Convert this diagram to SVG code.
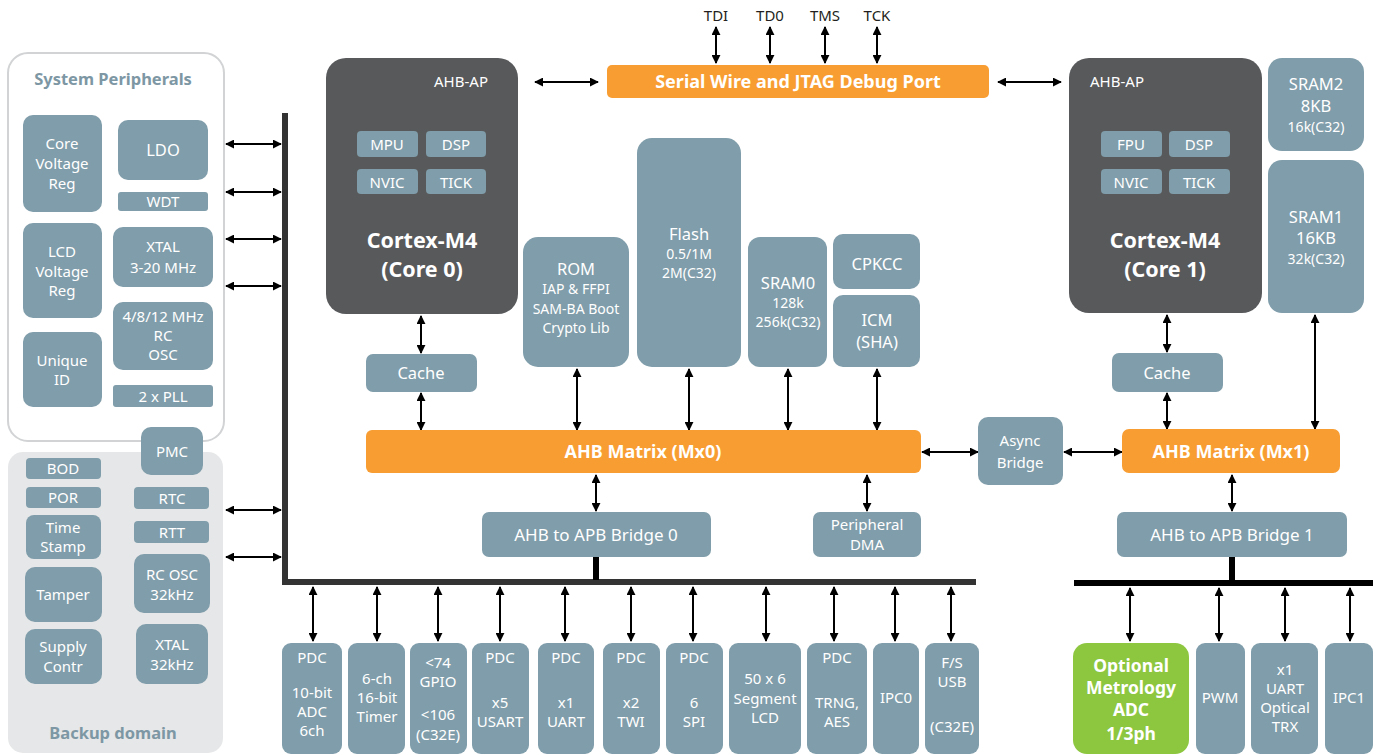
<svg xmlns="http://www.w3.org/2000/svg" width="1380" height="755" viewBox="0 0 1380 755">
<defs>
<marker id="ah" viewBox="0 0 10 10" refX="9" refY="5" markerWidth="9" markerHeight="9" markerUnits="userSpaceOnUse" orient="auto-start-reverse">
<path d="M0,0 L10,5 L0,10 z" fill="#000"/>
</marker>
<style>
.n{fill:#7F9DAA}
.d{fill:#58595B}
.o{fill:#F89D31}
.g{fill:#8DC63F}
text{font-family:"Noto Sans","Open Sans",sans-serif;text-anchor:middle;fill:#fff;font-size:15px}
.s{font-size:14px}
.m{font-size:16.5px}
.b{font-weight:bold}
.h{font-weight:bold;fill:#7D97A4;font-size:16.5px}
.k{fill:#231F20;font-size:15px}
.cx{font-weight:bold;font-size:21.5px}
.ob{font-weight:bold;font-size:18px}
.gb{font-weight:bold;font-size:17.5px}
.c line{stroke:#000;stroke-width:2;marker-start:url(#ah);marker-end:url(#ah)}
</style>
</defs>
<rect width="1380" height="755" fill="#fff"/>

<g id="sysperiph-panel">
<rect x="8" y="53" width="216" height="388" rx="20" fill="#fff" stroke="#D1D3D4" stroke-width="2"/>
<text class="h" x="113" y="85">System Peripherals</text>
</g>
<g id="backup-panel">
<rect x="8" y="452" width="215" height="301" rx="15" fill="#E6E7E8"/>
<text class="h" x="113" y="739">Backup domain</text>
</g>

<g id="buses">
<rect x="282" y="113" width="6" height="472" fill="#333"/>
<rect x="282" y="579" width="694" height="6" fill="#333"/>
<rect x="593" y="557" width="6" height="23" fill="#000"/>
<rect x="1074" y="580" width="299" height="6" fill="#000"/>
<rect x="1229" y="557" width="6" height="24" fill="#000"/>
</g>

<g id="connectors" class="c">
<line x1="226" y1="144" x2="281" y2="144"/>
<line x1="226" y1="192" x2="281" y2="192"/>
<line x1="226" y1="239" x2="281" y2="239"/>
<line x1="226" y1="286" x2="281" y2="286"/>
<line x1="226" y1="510" x2="281" y2="510"/>
<line x1="226" y1="557" x2="281" y2="557"/>
<line x1="716" y1="27" x2="716" y2="63"/>
<line x1="770" y1="27" x2="770" y2="63"/>
<line x1="825" y1="27" x2="825" y2="63"/>
<line x1="877" y1="27" x2="877" y2="63"/>
<line x1="535" y1="82" x2="598" y2="82"/>
<line x1="998" y1="82" x2="1061" y2="82"/>
<line x1="421" y1="316" x2="421" y2="353"/>
<line x1="421" y1="393" x2="421" y2="430"/>
<line x1="577" y1="369" x2="577" y2="430"/>
<line x1="689" y1="369" x2="689" y2="430"/>
<line x1="788" y1="369" x2="788" y2="430"/>
<line x1="877" y1="369" x2="877" y2="430"/>
<line x1="596" y1="475" x2="596" y2="511"/>
<line x1="867" y1="475" x2="867" y2="511"/>
<line x1="922" y1="452" x2="978" y2="452"/>
<line x1="1064" y1="452" x2="1122" y2="452"/>
<line x1="1167" y1="315" x2="1167" y2="352"/>
<line x1="1167" y1="393" x2="1167" y2="429"/>
<line x1="1315" y1="315" x2="1315" y2="429"/>
<line x1="1232" y1="475" x2="1232" y2="511"/>
<line x1="313" y1="587" x2="313" y2="641"/>
<line x1="377" y1="587" x2="377" y2="641"/>
<line x1="438" y1="587" x2="438" y2="641"/>
<line x1="500" y1="587" x2="500" y2="641"/>
<line x1="565" y1="587" x2="565" y2="641"/>
<line x1="631" y1="587" x2="631" y2="641"/>
<line x1="693" y1="587" x2="693" y2="641"/>
<line x1="766" y1="587" x2="766" y2="641"/>
<line x1="834" y1="587" x2="834" y2="641"/>
<line x1="895" y1="587" x2="895" y2="641"/>
<line x1="951" y1="587" x2="951" y2="641"/>
<line x1="1130" y1="588" x2="1130" y2="641"/>
<line x1="1219" y1="588" x2="1219" y2="641"/>
<line x1="1285" y1="588" x2="1285" y2="641"/>
<line x1="1350" y1="588" x2="1350" y2="641"/>
</g>

<g id="jtag-labels">
<text class="k" x="716" y="21">TDI</text>
<text class="k" x="770" y="21">TD0</text>
<text class="k" x="825" y="21">TMS</text>
<text class="k" x="877" y="21">TCK</text>
</g>

<g id="core-vreg"><rect class="n" x="23" y="115" width="79" height="97" rx="10"/><text x="62" y="149">Core</text><text x="62" y="169">Voltage</text><text x="62" y="189">Reg</text></g>
<g id="ldo"><rect class="n" x="118" y="120" width="90" height="60" rx="10"/><text x="163" y="156" class="m">LDO</text></g>
<g id="wdt"><rect class="n" x="118" y="192" width="90" height="19" rx="3"/><text x="163" y="207">WDT</text></g>
<g id="lcd-vreg"><rect class="n" x="23" y="223" width="79" height="95" rx="10"/><text x="62" y="257">LCD</text><text x="62" y="277">Voltage</text><text x="62" y="296">Reg</text></g>
<g id="xtal"><rect class="n" x="113" y="227" width="100" height="60" rx="10"/><text x="163" y="252">XTAL</text><text x="163" y="273">3-20 MHz</text></g>
<g id="rc-osc"><rect class="n" x="113" y="302" width="100" height="68" rx="10"/><text x="163" y="322">4/8/12 MHz</text><text x="163" y="341">RC</text><text x="163" y="360">OSC</text></g>
<g id="unique-id"><rect class="n" x="23" y="332" width="79" height="75" rx="10"/><text x="62" y="366">Unique</text><text x="62" y="385">ID</text></g>
<g id="pll"><rect class="n" x="113" y="385" width="100" height="22" rx="3"/><text x="163" y="402">2 x PLL</text></g>
<g id="pmc"><rect class="n" x="141" y="427" width="62" height="48" rx="10"/><text x="172" y="457">PMC</text></g>

<g id="bod"><rect class="n" x="26" y="458" width="75" height="21" rx="4"/><text x="63" y="474">BOD</text></g>
<g id="por"><rect class="n" x="26" y="487" width="75" height="21" rx="4"/><text x="63" y="503">POR</text></g>
<g id="timestamp"><rect class="n" x="26" y="515" width="75" height="44" rx="8"/><text x="63" y="533">Time</text><text x="63" y="552">Stamp</text></g>
<g id="tamper"><rect class="n" x="25" y="567" width="77" height="55" rx="10"/><text x="63" y="600">Tamper</text></g>
<g id="supply"><rect class="n" x="25" y="629" width="77" height="55" rx="10"/><text x="63" y="652">Supply</text><text x="63" y="672">Contr</text></g>
<g id="rtc"><rect class="n" x="134" y="487" width="75" height="22" rx="4"/><text x="172" y="504">RTC</text></g>
<g id="rtt"><rect class="n" x="134" y="521" width="75" height="22" rx="4"/><text x="172" y="538">RTT</text></g>
<g id="rc32"><rect class="n" x="134" y="554" width="76" height="59" rx="10"/><text x="172" y="580">RC OSC</text><text x="172" y="600">32kHz</text></g>
<g id="xtal32"><rect class="n" x="136" y="624" width="72" height="60" rx="10"/><text x="172" y="650">XTAL</text><text x="172" y="670">32kHz</text></g>

<g id="core0">
<rect class="d" x="326" y="58" width="192" height="256" rx="20"/>
<text x="461" y="87">AHB-AP</text>
<rect class="n" x="357" y="131" width="61" height="26" rx="4"/><text x="387" y="150">MPU</text>
<rect class="n" x="426" y="131" width="60" height="26" rx="4"/><text x="456" y="150">DSP</text>
<rect class="n" x="357" y="169" width="61" height="25" rx="4"/><text x="387" y="188">NVIC</text>
<rect class="n" x="426" y="169" width="60" height="25" rx="4"/><text x="456" y="188">TICK</text>
<text class="cx" x="422" y="248">Cortex-M4</text>
<text class="cx" x="422" y="277">(Core 0)</text>
</g>
<g id="cache0"><rect class="n" x="366" y="354" width="111" height="38" rx="7"/><text x="421" y="379" class="m">Cache</text></g>

<g id="debug-port"><rect class="o" x="607" y="65" width="382" height="33" rx="5"/><text class="ob" x="798" y="88">Serial Wire and JTAG Debug Port</text></g>

<g id="rom"><rect class="n" x="523" y="237" width="106" height="130" rx="15"/><text x="576" y="275" class="m">ROM</text><text class="s" x="576" y="294">IAP &amp; FFPI</text><text class="s" x="576" y="314">SAM-BA Boot</text><text class="s" x="576" y="333">Crypto Lib</text></g>
<g id="flash"><rect class="n" x="637" y="138" width="104" height="229" rx="15"/><text x="689" y="240" class="m">Flash</text><text class="s" x="689" y="259">0.5/1M</text><text class="s" x="689" y="278">2M(C32)</text></g>
<g id="sram0"><rect class="n" x="748" y="237" width="79" height="130" rx="12"/><text x="788" y="289" class="m">SRAM0</text><text class="s" x="788" y="308">128k</text><text class="s" x="788" y="327">256k(C32)</text></g>
<g id="cpkcc"><rect class="n" x="833" y="234" width="87" height="55" rx="10"/><text x="877" y="270" class="m">CPKCC</text></g>
<g id="icm"><rect class="n" x="833" y="295" width="87" height="72" rx="10"/><text x="877" y="326" class="m">ICM</text><text x="877" y="348" class="m">(SHA)</text></g>

<g id="mx0"><rect class="o" x="366" y="430" width="555" height="43" rx="6"/><text class="ob" x="643" y="458">AHB Matrix (Mx0)</text></g>
<g id="bridge0"><rect class="n" x="482" y="512" width="229" height="45" rx="7"/><text x="596" y="541" style="font-size:17px">AHB to APB Bridge 0</text></g>
<g id="pdma"><rect class="n" x="813" y="512" width="108" height="45" rx="7"/><text x="867" y="530">Peripheral</text><text x="867" y="550">DMA</text></g>
<g id="async"><rect class="n" x="978" y="417" width="85" height="68" rx="10"/><text x="1020" y="446">Async</text><text x="1020" y="468">Bridge</text></g>

<g id="core1">
<rect class="d" x="1069" y="58" width="193" height="255" rx="20"/>
<text x="1117" y="87">AHB-AP</text>
<rect class="n" x="1101" y="131" width="61" height="26" rx="4"/><text x="1131" y="150">FPU</text>
<rect class="n" x="1169" y="131" width="61" height="26" rx="4"/><text x="1199" y="150">DSP</text>
<rect class="n" x="1101" y="169" width="61" height="25" rx="4"/><text x="1131" y="188">NVIC</text>
<rect class="n" x="1169" y="169" width="61" height="25" rx="4"/><text x="1199" y="188">TICK</text>
<text class="cx" x="1165" y="248">Cortex-M4</text>
<text class="cx" x="1165" y="277">(Core 1)</text>
</g>
<g id="sram2"><rect class="n" x="1268" y="58" width="96" height="93" rx="14"/><text x="1316" y="90" class="m">SRAM2</text><text x="1316" y="112" class="m">8KB</text><text class="s" x="1316" y="132">16k(C32)</text></g>
<g id="sram1"><rect class="n" x="1268" y="160" width="96" height="153" rx="14"/><text x="1316" y="223" class="m">SRAM1</text><text x="1316" y="244" class="m">16KB</text><text class="s" x="1316" y="264">32k(C32)</text></g>
<g id="cache1"><rect class="n" x="1112" y="353" width="111" height="39" rx="7"/><text x="1167" y="379" class="m">Cache</text></g>
<g id="mx1"><rect class="o" x="1122" y="429" width="218" height="44" rx="7"/><text class="ob" x="1231" y="458">AHB Matrix (Mx1)</text></g>
<g id="bridge1"><rect class="n" x="1117" y="512" width="230" height="45" rx="7"/><text x="1232" y="541" style="font-size:17px">AHB to APB Bridge 1</text></g>

<g id="adc"><rect class="n" x="282" y="643" width="60" height="111" rx="9"/><text x="312" y="663">PDC</text><text x="312" y="698">10-bit</text><text x="312" y="717">ADC</text><text x="312" y="736">6ch</text></g>
<g id="timer"><rect class="n" x="348" y="643" width="57" height="111" rx="9"/><text x="377" y="684">6-ch</text><text x="377" y="703">16-bit</text><text x="377" y="722">Timer</text></g>
<g id="gpio"><rect class="n" x="410" y="643" width="57" height="111" rx="9"/><text x="438" y="668">&lt;74</text><text x="438" y="687">GPIO</text><text x="438" y="720">&lt;106</text><text x="438" y="740">(C32E)</text></g>
<g id="usart"><rect class="n" x="472" y="643" width="57" height="111" rx="9"/><text x="500" y="663">PDC</text><text x="500" y="708">x5</text><text x="500" y="727">USART</text></g>
<g id="uart"><rect class="n" x="538" y="643" width="56" height="111" rx="9"/><text x="566" y="663">PDC</text><text x="566" y="708">x1</text><text x="566" y="727">UART</text></g>
<g id="twi"><rect class="n" x="603" y="643" width="57" height="111" rx="9"/><text x="631" y="663">PDC</text><text x="631" y="708">x2</text><text x="631" y="727">TWI</text></g>
<g id="spi"><rect class="n" x="666" y="643" width="57" height="111" rx="9"/><text x="694" y="663">PDC</text><text x="694" y="708">6</text><text x="694" y="727">SPI</text></g>
<g id="lcd"><rect class="n" x="729" y="643" width="72" height="111" rx="9"/><text x="765" y="684">50 x 6</text><text x="765" y="704">Segment</text><text x="765" y="723">LCD</text></g>
<g id="trng"><rect class="n" x="807" y="643" width="60" height="111" rx="9"/><text x="837" y="663">PDC</text><text x="837" y="708">TRNG,</text><text x="837" y="727">AES</text></g>
<g id="ipc0"><rect class="n" x="873" y="643" width="46" height="111" rx="9"/><text x="896" y="703">IPC0</text></g>
<g id="usb"><rect class="n" x="925" y="643" width="54" height="111" rx="9"/><text x="952" y="668">F/S</text><text x="952" y="687">USB</text><text x="952" y="732">(C32E)</text></g>
<g id="metrology"><rect class="g" x="1073" y="643" width="116" height="111" rx="14"/><text class="gb" x="1131" y="672">Optional</text><text class="gb" x="1131" y="694">Metrology</text><text class="gb" x="1131" y="716">ADC</text><text class="gb" x="1131" y="740">1/3ph</text></g>
<g id="pwm"><rect class="n" x="1196" y="643" width="49" height="111" rx="9"/><text x="1220" y="703">PWM</text></g>
<g id="uart-optical"><rect class="n" x="1251" y="643" width="67" height="111" rx="9"/><text x="1285" y="675">x1</text><text x="1285" y="694">UART</text><text x="1285" y="713">Optical</text><text x="1285" y="732">TRX</text></g>
<g id="ipc1"><rect class="n" x="1325" y="643" width="48" height="111" rx="9"/><text x="1349" y="703">IPC1</text></g>
</svg>
